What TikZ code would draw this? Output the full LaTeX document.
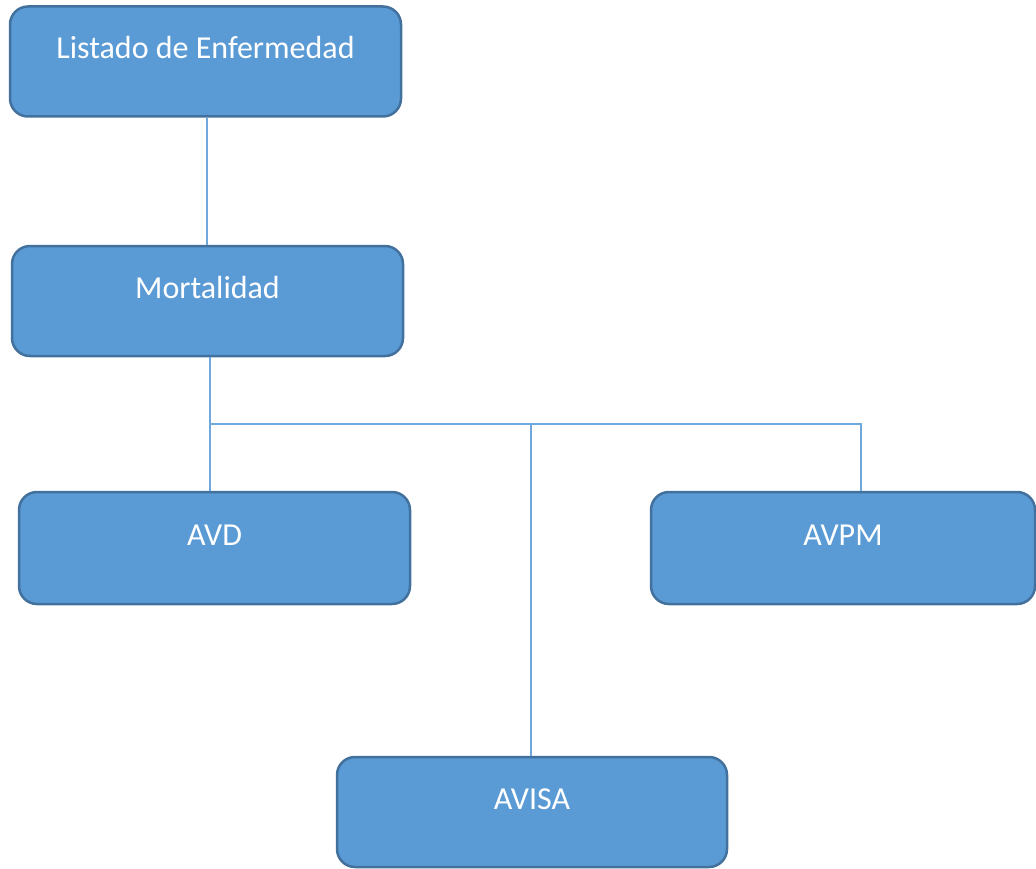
\documentclass[tikz,border=0pt]{standalone}
\usepackage{fontspec}
\setmainfont{Carlito}
\usetikzlibrary{calc}
\definecolor{boxfill}{HTML}{5B9BD5}
\definecolor{boxline}{HTML}{41719C}
\definecolor{linkline}{HTML}{6FA8DC}
\begin{document}
\begin{tikzpicture}[x=1pt,y=-1pt,
  box/.style={draw=boxline, line width=2.5pt, fill=boxfill, rounded corners=18pt,
    text=white, font=\fontsize{32}{38}\selectfont, text height=10pt, text depth=16pt,
    inner sep=0pt, minimum height=110pt},
  link/.style={draw=linkline, line width=1.6pt}]
\useasboundingbox (0,0) rectangle (1036,869);

\node[box, minimum width=391pt] (L) at (205.5,61.5) {Listado de Enfermedad};
\node[box, minimum width=391pt] (M) at (207.5,301) {Mortalidad};
\node[box, minimum width=391pt, minimum height=112pt] (AVD) at (214.5,548) {AVD};
\node[box, minimum width=384pt, minimum height=112pt] (AVPM) at (843,548) {AVPM};
\node[box, minimum width=390pt] (AVISA) at (532,812) {AVISA};

\coordinate (bus) at (210,424);
\coordinate (mid) at (531,424);
\coordinate (right) at (861,424);
\coordinate (top) at ($(L.south)+(1.5,0)$);

\draw[link] (top) -- (top |- M.north);
\draw[link] (M.south -| bus) -- (bus) -- (bus |- AVD.north);
\draw[link] (bus) -- (right) -- (right |- AVPM.north);
\draw[link] (mid) -- (mid |- AVISA.north);
\end{tikzpicture}
\end{document}
